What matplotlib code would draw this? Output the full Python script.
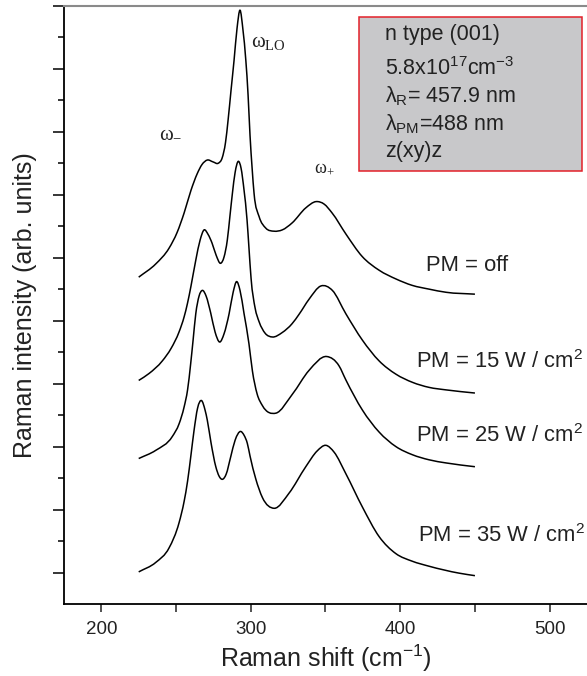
import numpy as np
import matplotlib
matplotlib.use('Agg')
import matplotlib.pyplot as plt
from matplotlib.ticker import MultipleLocator
from matplotlib.patches import Rectangle, PathPatch
from matplotlib.path import Path

plt.rcParams['font.family'] = ['Liberation Sans', 'DejaVu Sans']
plt.rcParams['mathtext.fontset'] = 'custom'
plt.rcParams['mathtext.rm'] = 'Liberation Sans'
plt.rcParams['mathtext.it'] = 'Liberation Sans:italic'
plt.rcParams['mathtext.bf'] = 'Liberation Sans:bold'

# Spectra (x in cm-1, intensity in arb. units incl. offset)
shift_off = [225, 236.4, 245.3, 250.7, 255.4, 260.0, 264.1, 267.4, 270.9, 274.8,
             278.3, 280.8, 283.1, 284.8, 286.8, 288.8, 290.8, 292.8, 294.8, 296.7,
             298.2, 299.5, 300.9, 302.2, 305.6, 310.0, 315.6, 321.0, 327.6, 336.8,
             343.7, 349.1, 354.4, 363.8, 374.5, 385.9, 397.3, 408.0, 419.3, 430.7, 450]
int_off = [51.9, 54.0, 56.5, 59.0, 62.1, 65.7, 68.3, 69.8, 70.5, 70.2,
           70.0, 70.8, 73.3, 76.8, 81.6, 86.3, 91.4, 94.3, 91.1, 86.3,
           80.8, 74.4, 69.2, 65.2, 61.5, 59.7, 59.2, 59.4, 60.5, 62.9,
           63.9, 63.5, 62.1, 58.7, 55.2, 53.0, 51.6, 50.6, 50.0, 49.5, 49.2]

shift_15 = [225, 231.9, 240.8, 246.7, 252.0, 255.4, 257.6, 260.0, 263.2, 266.1,
            268.7, 271.4, 274.1, 276.8, 279.8, 282.1, 284.3, 286.1, 287.7, 289.5,
            291.7, 293.5, 295.5, 297.5, 298.8, 300.2, 302.9, 305.6, 309.6, 314.5,
            321.0, 327.6, 332.3, 339.0, 346.9, 354.6, 363.6, 374.7, 385.9, 397.1,
            408.2, 419.3, 430.7, 450]
int_15 = [35.5, 36.6, 38.6, 40.6, 43.2, 45.6, 47.7, 50.5, 54.6, 57.8,
          59.4, 58.7, 57.3, 55.4, 54.1, 55.1, 57.8, 61.7, 65.2, 68.5,
          70.3, 69.2, 65.7, 61.0, 56.5, 51.7, 47.0, 44.8, 43.0, 42.4,
          43.1, 44.5, 46.0, 48.4, 50.5, 49.8, 46.1, 41.9, 38.6, 36.5,
          35.2, 34.4, 34.0, 33.5]

shift_25 = [225, 236.4, 247.5, 252.0, 255.4, 257.7, 259.8, 261.4, 263.2, 265.4,
            267.6, 270.1, 273.2, 276.1, 279.2, 282.1, 285.5, 288.2, 290.5, 292.8,
            295.5, 298.8, 301.1, 304.2, 307.8, 316.7, 327.8, 339.0, 350.8, 359.1,
            363.6, 374.7, 385.9, 397.1, 408.2, 419.3, 430.7, 450]
int_25 = [23.1, 24.4, 26.6, 28.6, 31.3, 34.0, 38.2, 41.9, 46.1, 48.9,
          49.8, 48.9, 46.2, 43.2, 41.6, 42.9, 46.1, 49.5, 51.2, 49.8,
          46.1, 41.3, 37.0, 33.4, 31.5, 30.3, 33.3, 37.1, 39.3, 37.8,
          35.6, 30.8, 27.3, 25.0, 23.7, 22.9, 22.4, 21.8]

shift_35 = [225, 236.4, 245.3, 252.0, 255.4, 257.7, 260.0, 262.0, 264.4, 267.1,
            269.4, 270.9, 273.4, 276.6, 278.8, 281.0, 283.5, 286.6, 289.5, 293.3,
            295.5, 297.7, 299.5, 303.3, 307.8, 315.6, 325.6, 336.8, 344.4, 350.2,
            355.8, 363.6, 374.7, 385.9, 397.1, 408.0, 419.3, 439.4, 450]
int_35 = [5.1, 6.6, 8.9, 12.9, 16.3, 19.5, 23.7, 27.5, 31.1, 32.3,
          30.8, 29.2, 25.6, 21.8, 20.3, 19.8, 20.6, 23.4, 26.0, 27.4,
          26.8, 25.5, 23.5, 19.9, 16.9, 15.2, 17.6, 21.8, 24.3, 25.2,
          24.1, 20.7, 15.4, 10.7, 8.0, 6.8, 6.0, 4.9, 4.5]

pm_labels = ['PM = off', 'PM = 15 W / cm$^{2}$', 'PM = 25 W / cm$^{2}$', 'PM = 35 W / cm$^{2}$']
pm_label_pos = [(417.3, 52.9), (410.6, 37.5), (410.6, 25.7), (412.0, 9.8)]

box_lines = ['n type (001)',
             '5.8x10$^{17}$cm$^{-3}$',
             'λ$_{\\mathregular{R}}$= 457.9 nm',
             'λ$_{\\mathregular{PM}}$=488 nm',
             'z(xy)z']
box_line_y = [89.5, 84.0, 79.7, 75.2, 71.0]

spectra = [(shift_off, int_off), (shift_15, int_15), (shift_25, int_25), (shift_35, int_35)]


def smooth_path(x, y):
    # cubic Hermite path through the read points (tangents from neighbours)
    x = np.asarray(x, float)
    y = np.asarray(y, float)
    m = np.gradient(y, x)
    verts = [(x[0], y[0])]
    codes = [Path.MOVETO]
    for i in range(len(x) - 1):
        h = x[i + 1] - x[i]
        verts += [(x[i] + h / 3, y[i] + m[i] * h / 3),
                  (x[i + 1] - h / 3, y[i + 1] - m[i + 1] * h / 3),
                  (x[i + 1], y[i + 1])]
        codes += [Path.CURVE4] * 3
    return Path(verts, codes)


fig = plt.figure(figsize=(5.87, 6.76), dpi=100)
ax = fig.add_axes([0.109, 0.1065, 0.891, 0.885])

for x, y in spectra:
    ax.add_patch(PathPatch(smooth_path(x, y), facecolor='none', edgecolor='black',
                           lw=1.1, capstyle='butt', joinstyle='round'))

ax.set_xlim(175, 525)
ax.set_ylim(0, 95)

# axes look
ax.spines['right'].set_visible(False)
ax.spines['top'].set_color('#8a8a8a')
ax.spines['top'].set_linewidth(1.5)
ax.spines['left'].set_linewidth(1.3)
ax.spines['bottom'].set_linewidth(1.3)

ax.xaxis.set_major_locator(MultipleLocator(100))
ax.xaxis.set_minor_locator(MultipleLocator(50))
ax.set_yticks(np.arange(5, 96, 10))
ax.set_yticks(np.arange(10, 91, 10), minor=True)
ax.tick_params(axis='x', which='both', length=5.5, width=1.1, labelsize=13.5, pad=6.5, colors='#222222')
ax.tick_params(axis='y', which='major', length=8, width=1.1, labelleft=False)
ax.tick_params(axis='y', which='minor', length=4, width=1.1)

ax.set_xlabel('Raman shift (cm$^{-1}$)', fontsize=18, color='#222222')
ax.set_ylabel('Raman intensity (arb. units)', fontsize=18, color='#222222')
ax.xaxis.set_label_coords(0.5, -0.064)
ax.yaxis.set_label_coords(-0.052, 0.5)

# mode labels
omega_kw = dict(family=['Liberation Serif', 'DejaVu Serif'], color='#222222', va='baseline')
ax.text(300.2, 88.3, 'ω$_{\\mathregular{LO}}$', fontsize=15, **omega_kw)
ax.text(238.6, 74.1, 'ω$_{\\mathregular{-}}$', fontsize=15, **omega_kw)
ax.text(342.4, 68.7, 'ω$_{\\mathregular{+}}$', fontsize=13, **omega_kw)

# power labels
for lab, (lx, ly) in zip(pm_labels, pm_label_pos):
    ax.text(lx, ly, lab, fontsize=15.8, color='#222222', va='baseline', clip_on=False)

# sample info box
ax.add_patch(Rectangle((372.5, 68.7), 149.3, 24.5, facecolor='#c8c8ca',
                       edgecolor='#e3202a', lw=1.1, zorder=3))
for line, ly in zip(box_lines, box_line_y):
    ax.text(390.0, ly, line, fontsize=15.5, color='#222222', va='baseline', zorder=4)

plt.savefig('out.png', dpi=100)
